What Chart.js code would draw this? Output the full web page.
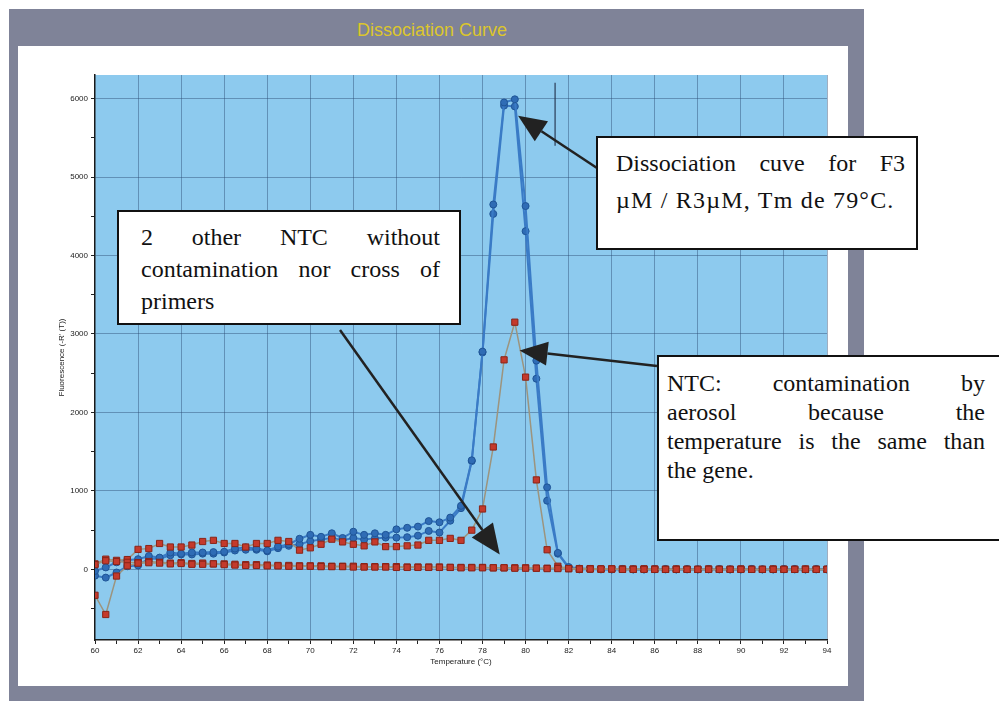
<!DOCTYPE html>
<html><head><meta charset="utf-8">
<script src="https://cdn.jsdelivr.net/npm/chart.js@4/dist/chart.umd.min.js"></script>
<style>
html,body{margin:0;padding:0;width:999px;height:707px;overflow:hidden;background:#fff;}
#frame{position:absolute;left:9px;top:9px;width:855px;height:692px;background:#7f8398;}
#panel{position:absolute;left:18px;top:46px;width:830px;height:640px;background:#fff;}
#title{position:absolute;left:357px;top:20px;white-space:nowrap;font-family:'Liberation Sans',Arial,sans-serif;font-size:18px;color:#dcc62c;}
#c{position:absolute;left:0;top:0;}
.box{position:absolute;background:#fff;border:2px solid #111;box-sizing:border-box;font-family:'Liberation Serif','Times New Roman',serif;font-size:24px;color:#111;white-space:nowrap;}
.box .j{text-align:justify;text-align-last:justify;}
#b1{left:596px;top:136px;width:322px;height:114px;padding:7px 11px 0 18px;line-height:37px;}
#b1 .l2{letter-spacing:1.2px;}
#b2{left:117px;top:210px;width:344px;height:115px;padding:9px 19px 0 22px;line-height:32px;}
#b3{left:657px;top:355px;width:360px;height:186px;padding:12px 30px 0 8px;line-height:29px;}
</style></head>
<body>
<div id="frame"></div>
<div id="panel"></div>
<div id="title">Dissociation Curve</div>
<canvas id="c" width="999" height="707"></canvas>
<div class="box" id="b1"><div class="j">Dissociation cuve for F3</div><div class="l2">µM / R3µM, Tm de 79°C.</div></div>
<div class="box" id="b2"><div class="j">2 other NTC without</div><div class="j">contamination nor cross of</div><div>primers</div></div>
<div class="box" id="b3"><div class="j">NTC: contamination by</div><div class="j">aerosol because the</div><div class="j">temperature is the same than</div><div>the gene.</div></div>
<script>
// Temperature (°C) of each reading
const temps = [60,60.5,61,61.5,62,62.5,63,63.5,64,64.5,65,65.5,66,66.5,67,67.5,68,68.5,69,69.5,
70,70.5,71,71.5,72,72.5,73,73.5,74,74.5,75,75.5,76,76.5,77,77.5,78,78.5,79,79.5,
80,80.5,81,81.5,82,82.5,83,83.5,84,84.5,85,85.5,86,86.5,87,87.5,88,88.5,89,89.5,
90,90.5,91,91.5,92,92.5,93,93.5,94];
// Gene F3/R3 replicate 1 (blue)
const gene1 = [-20,25,90,120,130,170,150,215,200,215,215,220,225,265,280,265,240,290,320,390,
440,415,460,400,480,440,460,440,510,530,545,615,600,660,810,1390,2775,4650,5950,5990,
4630,2660,1045,210,30,10,5,5,0,5,0,0,5,0,0,5,0,0,5,0,
0,5,0,0,5,0,0,5,0];
// Gene F3/R3 replicate 2 (blue)
const gene2 = [-80,-105,-40,40,50,140,135,180,190,190,200,200,215,240,250,250,230,270,300,320,
360,380,400,370,400,380,395,405,405,410,430,490,470,620,780,1380,2765,4530,5910,5900,
4310,2430,875,200,20,0,5,0,0,5,0,0,0,5,0,0,0,5,0,0,
0,5,0,0,0,5,0,0,0];
// NTC contaminated by aerosol (red)
const ntcCont = [70,130,115,125,255,265,330,285,285,310,355,370,330,330,285,330,330,370,355,245,
275,320,385,350,320,300,350,290,290,300,310,370,370,395,370,500,770,1560,2670,3150,
2450,1140,250,40,10,0,5,0,5,0,0,5,0,0,5,0,0,5,0,0,
5,0,0,5,0,0,5,0,0];
// NTC 2 (clean)
const ntc2 = [-330,-575,-85,45,80,85,80,70,75,65,65,70,60,55,50,50,45,45,40,40,
40,35,35,35,30,30,30,30,25,25,25,25,25,25,20,20,20,20,20,15,
15,15,10,10,10,5,5,5,5,0,0,0,0,0,0,0,0,0,0,0,
0,0,0,0,0,0,0,0,0];
// NTC 3 (clean)
const ntc3 = [60,110,100,90,85,100,90,80,85,75,80,70,70,65,60,60,55,50,50,45,
45,45,40,40,40,35,35,35,35,30,30,30,30,25,25,25,25,20,20,20,
20,15,15,15,10,10,10,5,5,5,5,5,5,0,0,0,0,0,0,0,
0,0,0,0,0,0,0,0,0];
// Axis ticks
const xLabelTicks = [60,62,64,66,68,70,72,74,76,78,80,82,84,86,88,90,92,94];
const xMinorTicks = [61,63,65,67,69,71,73,75,77,79,81,83,85,87,89,91,93];
const yLabelTicks = [0,1000,2000,3000,4000,5000,6000];
const yMinorTicks = [-500,500,1500,2500,3500,4500,5500];

const pts = arr => temps.map((t,i)=>({x:t,y:arr[i]}));

const redSq = {pointStyle:'rect', pointRadius:4.4, pointHoverRadius:4.4, pointBackgroundColor:'#c43a2c', pointBorderColor:'#8a2418', pointBorderWidth:1, borderColor:'#9c947e', borderWidth:1.5, tension:0};
const blueDot = {pointStyle:'circle', pointRadius:3.5, pointHoverRadius:3.5, pointBackgroundColor:'#2f6cb5', pointBorderColor:'#1f5597', pointBorderWidth:1, borderColor:'#3a7bc6', borderWidth:2, tension:0};

const bgPlugin = {
  id:'bg',
  beforeDraw(chart){
    const {ctx, chartArea:a} = chart;
    ctx.save(); ctx.fillStyle='#8dcaee'; ctx.fillRect(a.left,a.top,a.right-a.left,a.bottom-a.top); ctx.restore();
  }
};
function arrow(ctx, x0,y0,x1,y1, len, hw){
  const ang = Math.atan2(y1-y0,x1-x0);
  const bx = x1 - len*Math.cos(ang), by = y1 - len*Math.sin(ang);
  ctx.beginPath(); ctx.moveTo(x0,y0); ctx.lineTo(bx,by); ctx.stroke();
  ctx.beginPath(); ctx.moveTo(x1,y1);
  ctx.lineTo(bx + hw*Math.sin(ang), by - hw*Math.cos(ang));
  ctx.lineTo(bx - hw*Math.sin(ang), by + hw*Math.cos(ang));
  ctx.closePath(); ctx.fill();
}
const annoPlugin = {
  id:'anno',
  afterDraw(chart){
    const {ctx} = chart; const xs = chart.scales.x, ys = chart.scales.y;
    ctx.save();
    ctx.strokeStyle='#2a3b55'; ctx.lineWidth=1.2;
    ctx.beginPath(); ctx.moveTo(xs.getPixelForValue(81.37), ys.getPixelForValue(6200)); ctx.lineTo(xs.getPixelForValue(81.37), ys.getPixelForValue(5400)); ctx.stroke();
    ctx.strokeStyle='#222'; ctx.fillStyle='#222'; ctx.lineWidth=2.5;
    arrow(ctx, 600,170, xs.getPixelForValue(79.65), ys.getPixelForValue(5780), 28, 12);
    arrow(ctx, 340,330, xs.getPixelForValue(78.8), ys.getPixelForValue(190), 30, 13);
    arrow(ctx, 657,366, xs.getPixelForValue(79.72), ys.getPixelForValue(2790), 28, 12);
    ctx.restore();
  }
};

const gridCol = 'rgba(45,75,115,0.45)';
new Chart(document.getElementById('c'), {
  type:'line',
  data:{datasets:[
    Object.assign({label:'NTC 2', data:pts(ntc2)}, redSq),
    Object.assign({label:'NTC 3', data:pts(ntc3)}, redSq),
    Object.assign({label:'NTC contaminated', data:pts(ntcCont)}, redSq),
    Object.assign({label:'F3/R3 rep 1', data:pts(gene1)}, blueDot),
    Object.assign({label:'F3/R3 rep 2', data:pts(gene2)}, blueDot)
  ]},
  options:{
    responsive:false, devicePixelRatio:1, animation:false,
    layout:{padding:{left:55,right:172,top:75,bottom:37}},
    plugins:{legend:{display:false}, tooltip:{enabled:false}},
    scales:{
      x:{type:'linear', min:60, max:94,
        afterBuildTicks(s){ s.ticks = xLabelTicks.concat(xMinorTicks).sort((a,b)=>a-b).map(v=>({value:v})); },
        afterFit(s){ s.height = 30; },
        ticks:{autoSkip:false, maxRotation:0, font:{size:8,family:'Liberation Sans'}, color:'#222', padding:2,
          callback:(v)=> xLabelTicks.includes(v) ? String(v) : ''},
        grid:{color:(c)=> (c.tick && xLabelTicks.includes(c.tick.value) && c.tick.value!==60) ? gridCol : 'rgba(0,0,0,0)',
          borderDash:[1,3], tickColor:'#222', tickLength:4, tickBorderDash:[], lineWidth:1},
        border:{display:true, color:'#1a1a1a', width:1.5},
        title:{display:true, text:'Temperature (°C)', font:{size:8,family:'Liberation Sans'}, color:'#222', padding:{top:2,bottom:3}}
      },
      y:{type:'linear', min:-900, max:6300,
        afterBuildTicks(s){ s.ticks = yLabelTicks.concat(yMinorTicks).sort((a,b)=>a-b).map(v=>({value:v})); },
        afterFit(s){ s.width = 40; },
        ticks:{autoSkip:false, font:{size:8,family:'Liberation Sans'}, color:'#222', padding:3,
          callback:(v)=> yLabelTicks.includes(v) ? String(v) : ''},
        grid:{color:(c)=> (c.tick && yLabelTicks.includes(c.tick.value)) ? gridCol : 'rgba(0,0,0,0)',
          borderDash:[1,3], tickColor:'#222', tickLength:4, tickBorderDash:[], lineWidth:1},
        border:{display:true, color:'#1a1a1a', width:1.5},
        title:{display:true, text:"Fluorescence (-R' (T))", font:{size:8,family:'Liberation Sans'}, color:'#222', padding:{top:2,bottom:2}}
      }
    }
  },
  plugins:[bgPlugin, annoPlugin]
});
</script>
</body></html>
